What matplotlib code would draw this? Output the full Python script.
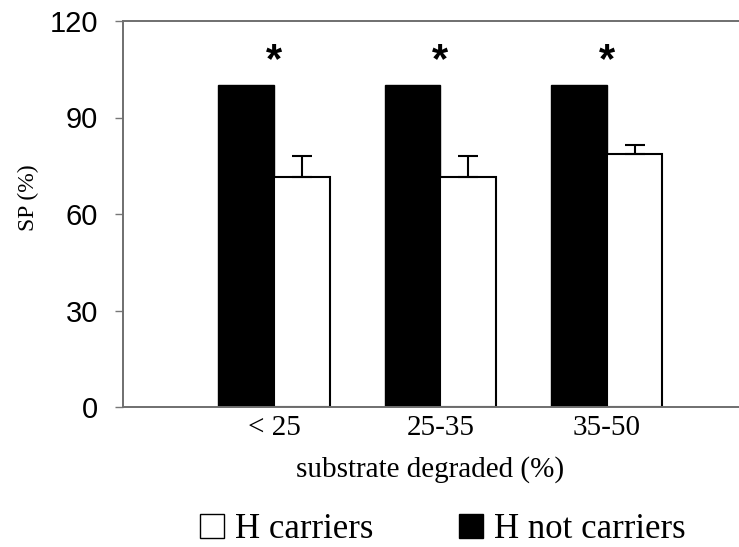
import matplotlib
matplotlib.use("Agg")
import matplotlib.pyplot as plt
from matplotlib.lines import Line2D
import numpy as np

categories = ["< 25", "25-35", "35-50"]
not_carriers = [100, 100, 100]
carriers = [71.5, 71.5, 78.7]
carriers_err = [6.5, 6.5, 2.8]
star_level = [107.5, 107.5, 107.5]

SERIF = ["Liberation Serif", "DejaVu Serif"]
SANS = ["Liberation Sans", "DejaVu Sans"]

fig = plt.figure(figsize=(7.39, 5.47), dpi=100)
# axes run past the right edge, like the original
ax = fig.add_axes([123 / 739, 1 - 407 / 547, 650 / 739, 386 / 547])

x = np.arange(len(categories))
w = 0.335
ax.bar(x - w / 2, not_carriers, w, color="black", edgecolor="black", linewidth=1)
ax.bar(x + w / 2, carriers, w, color="white", edgecolor="black", linewidth=1.5,
       yerr=[np.zeros(len(carriers)), carriers_err], capsize=7,
       error_kw=dict(ecolor="black", elinewidth=1.5, capthick=1.5))

for xi, s in zip(x, star_level):
    ax.text(xi, s, "*", ha="center", va="center", fontsize=30, fontweight="bold",
            family=SANS)

ax.set_xlim(-0.908, 3.0)
ax.set_ylim(0, 120)
ax.set_yticks([0, 30, 60, 90, 120])
ax.set_yticklabels(["0", "30", "60", "90", "120"], family=SANS, fontsize=21)
ax.set_xticks(x)
ax.set_xticklabels(categories, family=SERIF, fontsize=21)
ax.tick_params(axis="x", length=0, pad=6)
ax.tick_params(axis="y", length=6, width=1, color="#777777", pad=12)

for side in ("left", "bottom", "top", "right"):
    ax.spines[side].set_color("#6f6f6f")
    ax.spines[side].set_linewidth(1.4)

fig.text(28 / 739, 1 - 198 / 547, "SP (%)", rotation=90, ha="center", va="center",
         family=SERIF, fontsize=17)
fig.text(430 / 739, 1 - 470 / 547, "substrate degraded (%)", ha="center",
         va="center", family=SERIF, fontsize=21)

handles = [
    Line2D([], [], marker="s", linestyle="none", markersize=17,
           markerfacecolor="white", markeredgecolor="black", markeredgewidth=1),
    Line2D([], [], marker="s", linestyle="none", markersize=17,
           markerfacecolor="black", markeredgecolor="black"),
]
fig.legend(handles, ["H carriers", "H not carriers"], loc="center",
           bbox_to_anchor=(440 / 739, 1 - 530 / 547), ncol=2, frameon=False,
           prop=dict(family=SERIF, size=25), handletextpad=0.17,
           columnspacing=2.3, handlelength=1.0, borderpad=0, borderaxespad=0)

fig.savefig("out.png", dpi=100)
